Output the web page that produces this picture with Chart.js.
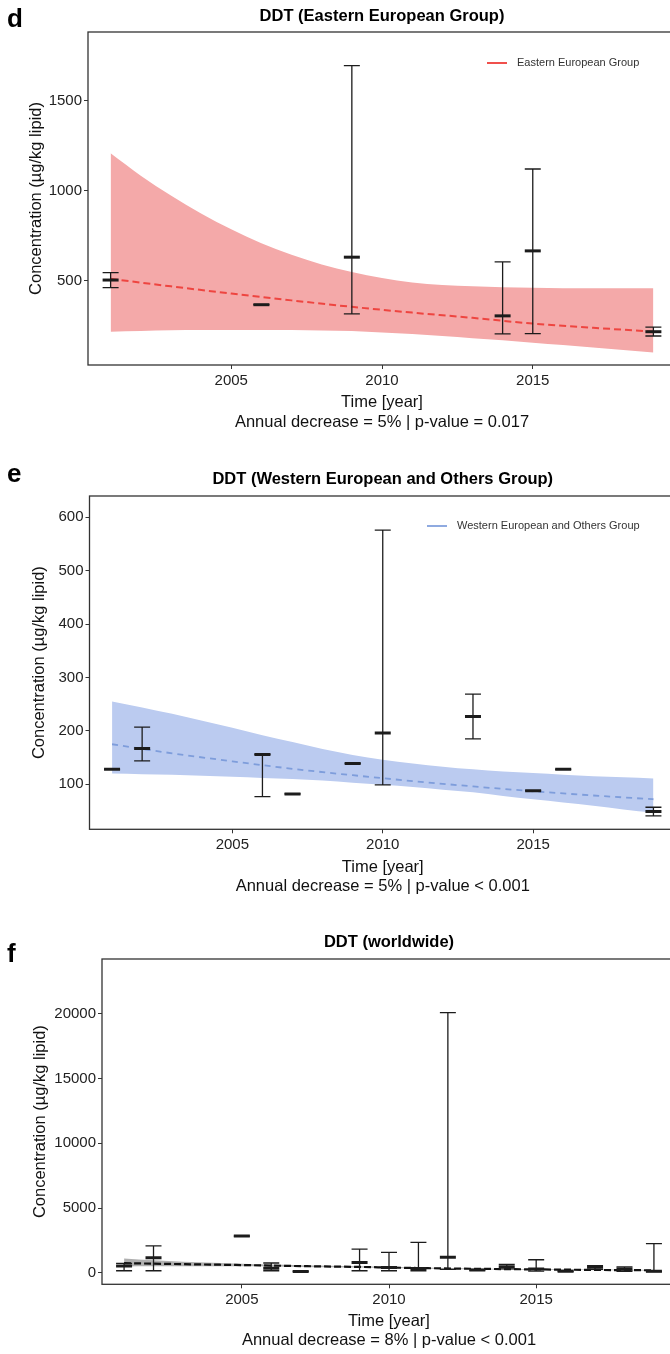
<!DOCTYPE html>
<html>
<head>
<meta charset="utf-8">
<title>DDT temporal trends</title>
<script src="https://cdn.jsdelivr.net/npm/chart.js@4.4.1/dist/chart.umd.min.js"></script>
<style>
    html, body { margin: 0; padding: 0; background: #fff; width: 670px; height: 1354px; overflow: hidden; }
    .panel { position: absolute; left: 0; }
</style>
</head>
<body>
<div class="panel" style="top:0px"><canvas id="chart-d" width="690" height="440"></canvas></div>
<div class="panel" style="top:440px"><canvas id="chart-e" width="690" height="460"></canvas></div>
<div class="panel" style="top:900px"><canvas id="chart-f" width="690" height="454"></canvas></div>
<script>
// DDT concentration trends - three stacked panels (d, e, f)

const FONT = "'Liberation Sans', Arial, sans-serif";

// Shared x ticks and fit years
const xTicks = [2005, 2010, 2015];
const ribbonYears = [2001, 2002, 2003, 2004, 2005, 2006, 2007, 2008, 2009, 2010,
                     2011, 2012, 2013, 2014, 2015, 2016, 2017, 2018, 2019];
const trendYears = [2001, 2003, 2005, 2007, 2009, 2011, 2013, 2015, 2017, 2019];

// Panel d: Eastern European Group
const yearsD = [2001, 2006, 2009, 2014, 2015, 2019];
const meanD = [505, 368, 632, 306, 667, 218];
const lowD = [463, 368, 317, 206, 207, 194];
const highD = [546, 368, 1696, 606, 1122, 243];
const trendD = [512, 470, 430, 392, 356, 324, 295, 263, 240, 218];
const upperD = [1209, 1085, 975, 875, 787, 710, 645, 592, 550, 516, 492, 478, 470, 465, 462, 460, 459, 459, 460];
const lowerD = [218, 222, 226, 228, 228, 228, 227, 225, 222, 214, 205, 194, 182, 170, 157, 144, 130, 116, 102];
const yTicksD = [500, 1000, 1500];

// Panel e: Western European and Others Group
const yearsE = [2001, 2002, 2006, 2007, 2009, 2010, 2013, 2015, 2016, 2019];
const meanE = [128, 167, 156, 82, 139, 196, 227, 88, 128, 49];
const lowE = [128, 144, 77, 82, 139, 99, 185, 88, 128, 41];
const highE = [128, 207, 156, 82, 139, 576, 269, 88, 128, 57];
const trendE = [175, 158, 143, 129, 117, 106, 96, 87, 79, 72];
const upperE = [255, 244, 232, 219, 206, 192, 179, 166, 155, 146, 139, 133, 128, 124, 121, 118, 115, 113, 111];
const lowerE = [120, 119, 118, 116, 114, 112, 110, 107, 103, 99, 95, 90, 85, 78, 72, 66, 60, 53, 47];
const yTicksE = [100, 200, 300, 400, 500, 600];

// Panel f: worldwide
const yearsF = [2001, 2002, 2005, 2006, 2007, 2009, 2010, 2011, 2012, 2013, 2014, 2015, 2016, 2017, 2018, 2019];
const meanF = [515, 1155, 2830, 350, 100, 790, 400, 330, 1190, 200, 460, 280, 110, 420, 260, 120];
const lowF = [150, 150, 2830, 150, 100, 150, 150, 150, 260, 200, 290, 120, 110, 260, 110, 80];
const highF = [720, 2080, 2830, 750, 100, 1825, 1570, 2340, 20100, 200, 650, 1000, 110, 540, 440, 2250];
const trendF = [740, 660, 590, 510, 445, 360, 300, 255, 215, 185];
const upperF = [1100, 960, 850, 760, 690, 630, 580, 530, 490, 440, 400, 365, 330, 305, 285, 265, 245, 230, 215];
const lowerF = [480, 500, 505, 505, 500, 480, 450, 425, 400, 360, 325, 295, 270, 248, 228, 208, 190, 175, 160];
const yTicksF = [0, 5000, 10000, 15000, 20000];

// Build {x, y} points for the linear x axis
function toPoints(xs, ys) {
    return xs.map((x, i) => ({ x: x, y: ys[i] }));
}

// Error bars (stem, caps, thick mean bar) drawn through the chart scales
function errorBarPlugin(p) {
    return {
        id: 'errorBars',
        afterDatasetsDraw(chart) {
            const { ctx, chartArea } = chart;
            const xs = chart.scales.x;
            const ys = chart.scales.y;
            const half = 8;
            ctx.save();
            ctx.beginPath();
            ctx.rect(chartArea.left, chartArea.top, chartArea.width, chartArea.height);
            ctx.clip();
            ctx.strokeStyle = '#1c1c1c';
            p.years.forEach((yr, i) => {
                const px = xs.getPixelForValue(yr);
                const yLow = ys.getPixelForValue(p.low[i]);
                const yHigh = ys.getPixelForValue(p.high[i]);
                const yMean = ys.getPixelForValue(p.mean[i]);
                ctx.lineWidth = 1.3;
                ctx.beginPath();
                ctx.moveTo(px, yLow);
                ctx.lineTo(px, yHigh);
                ctx.moveTo(px - half, yLow);
                ctx.lineTo(px + half, yLow);
                ctx.moveTo(px - half, yHigh);
                ctx.lineTo(px + half, yHigh);
                ctx.stroke();
                ctx.lineWidth = 3;
                ctx.beginPath();
                ctx.moveTo(px - half, yMean);
                ctx.lineTo(px + half, yMean);
                ctx.stroke();
            });
            ctx.restore();
        }
    };
}

// Panel border, panel letter, title and in-panel legend
function decorPlugin(p) {
    return {
        id: 'decor',
        afterDraw(chart) {
            const { ctx, chartArea } = chart;
            ctx.save();
            ctx.strokeStyle = '#333';
            ctx.lineWidth = 1.3;
            ctx.strokeRect(chartArea.left, chartArea.top, chartArea.width, chartArea.height);

            ctx.fillStyle = '#000';
            ctx.textBaseline = 'alphabetic';
            ctx.textAlign = 'left';
            ctx.font = 'bold 26px ' + FONT;
            ctx.fillText(p.letter, 7, p.letterY);

            ctx.textAlign = 'center';
            ctx.font = 'bold 16.5px ' + FONT;
            ctx.fillText(p.title, (chartArea.left + chartArea.right) / 2, p.titleY);

            if (p.legend) {
                ctx.strokeStyle = p.legendColor;
                ctx.lineWidth = 2;
                ctx.beginPath();
                ctx.moveTo(p.legendX, p.legendY);
                ctx.lineTo(p.legendX + 20, p.legendY);
                ctx.stroke();
                ctx.fillStyle = '#333';
                ctx.textAlign = 'left';
                ctx.textBaseline = 'middle';
                ctx.font = '11px ' + FONT;
                ctx.fillText(p.legend, p.legendX + 30, p.legendY);
            }
            ctx.restore();
        }
    };
}

function makePanel(canvasId, p) {
    const ctx = document.getElementById(canvasId);
    const titleFont = { size: 16.5, family: FONT, lineHeight: 1.18 };

    return new Chart(ctx, {
        type: 'line',
        data: {
            datasets: [
                {
                    label: 'upper',
                    data: toPoints(ribbonYears, p.upper),
                    borderColor: 'rgba(0,0,0,0)',
                    borderWidth: 0,
                    pointRadius: 0,
                    fill: '+1',
                    backgroundColor: p.ribbonColor,
                    cubicInterpolationMode: 'monotone',
                    order: 3
                },
                {
                    label: 'lower',
                    data: toPoints(ribbonYears, p.lower),
                    borderColor: 'rgba(0,0,0,0)',
                    borderWidth: 0,
                    pointRadius: 0,
                    fill: false,
                    cubicInterpolationMode: 'monotone',
                    order: 2
                },
                {
                    label: 'trend',
                    data: toPoints(trendYears, p.trend),
                    borderColor: p.lineColor,
                    borderWidth: p.lineWidth,
                    borderDash: p.dash,
                    pointRadius: 0,
                    fill: false,
                    cubicInterpolationMode: 'monotone',
                    order: 1
                }
            ]
        },
        options: {
            responsive: false,
            animation: false,
            events: [],
            layout: {
                padding: { top: p.areaTop, left: 0, right: 690 - 676, bottom: 0 }
            },
            plugins: {
                legend: { display: false },
                tooltip: { enabled: false }
            },
            scales: {
                x: {
                    type: 'linear',
                    min: 2000.25,
                    max: 2019.75,
                    afterBuildTicks: scale => { scale.ticks = xTicks.map(v => ({ value: v })); },
                    afterFit: scale => { scale.height = p.height - p.areaBottom; },
                    border: { display: false },
                    grid: { drawOnChartArea: false, tickLength: 4, color: '#333' },
                    ticks: {
                        color: '#222',
                        font: { size: 15, family: FONT },
                        padding: 3,
                        maxRotation: 0,
                        callback: v => String(v)
                    },
                    title: {
                        display: true,
                        text: ['Time [year]', p.caption],
                        color: '#111',
                        font: titleFont,
                        padding: { top: 0, bottom: p.height - p.captionY - 9.75 }
                    }
                },
                y: {
                    type: 'linear',
                    min: p.yMin,
                    max: p.yMax,
                    afterBuildTicks: scale => { scale.ticks = p.yTicks.map(v => ({ value: v })); },
                    afterFit: scale => { scale.width = p.areaLeft; },
                    border: { display: false },
                    grid: { drawOnChartArea: false, tickLength: 4, color: '#333' },
                    ticks: {
                        color: '#222',
                        font: { size: 15, family: FONT },
                        padding: 2,
                        callback: v => String(v)
                    },
                    title: {
                        display: true,
                        text: 'Concentration (\u00b5g/kg lipid)',
                        color: '#111',
                        font: { size: 16.5, family: FONT, lineHeight: 1.2 },
                        padding: { top: p.yTitleX - 9.9, bottom: 0 }
                    }
                }
            }
        },
        plugins: [errorBarPlugin(p), decorPlugin(p)]
    });
}

// Panel d
makePanel('chart-d', {
    years: yearsD, mean: meanD, low: lowD, high: highD,
    trend: trendD, upper: upperD, lower: lowerD, yTicks: yTicksD,
    yMin: 33, yMax: 1883,
    ribbonColor: '#F4A9A9', lineColor: '#EE4540', lineWidth: 2, dash: [7, 4],
    letter: 'd', title: 'DDT (Eastern European Group)',
    caption: 'Annual decrease = 5% | p-value = 0.017',
    legend: 'Eastern European Group', legendColor: '#F0504C',
    height: 440, areaTop: 32, areaBottom: 365, areaLeft: 88,
    captionY: 422, yTitleX: 36, letterY: 26.7, titleY: 20.5,
    legendX: 487, legendY: 63
});

// Panel e
makePanel('chart-e', {
    years: yearsE, mean: meanE, low: lowE, high: highE,
    trend: trendE, upper: upperE, lower: lowerE, yTicks: yTicksE,
    yMin: 15.7, yMax: 640,
    ribbonColor: '#BBCBF0', lineColor: '#7E9DDB', lineWidth: 1.8, dash: [6, 5],
    letter: 'e', title: 'DDT (Western European and Others Group)',
    caption: 'Annual decrease = 5% | p-value < 0.001',
    legend: 'Western European and Others Group', legendColor: '#8FAAE0',
    height: 460, areaTop: 56, areaBottom: 389.3, areaLeft: 89.5,
    captionY: 446.7, yTitleX: 39, letterY: 41.7, titleY: 43.5,
    legendX: 427, legendY: 86
});

// Panel f
makePanel('chart-f', {
    years: yearsF, mean: meanF, low: lowF, high: highF,
    trend: trendF, upper: upperF, lower: lowerF, yTicks: yTicksF,
    yMin: -897, yMax: 24250,
    ribbonColor: 'rgba(110,110,110,0.55)', lineColor: '#111', lineWidth: 2.2, dash: [7, 3],
    letter: 'f', title: 'DDT (worldwide)',
    caption: 'Annual decrease = 8% | p-value < 0.001',
    legend: null,
    height: 454, areaTop: 59, areaBottom: 384.3, areaLeft: 102,
    captionY: 440.7, yTitleX: 40, letterY: 61.7, titleY: 46.5
});
</script>
</body>
</html>
